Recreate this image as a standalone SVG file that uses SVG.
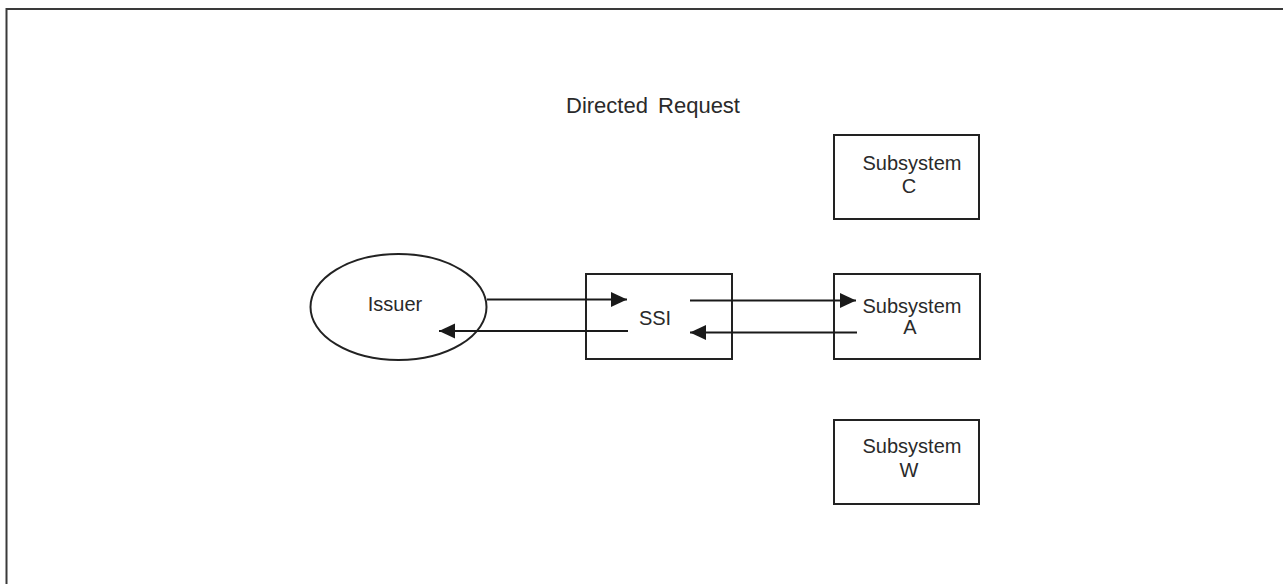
<svg xmlns="http://www.w3.org/2000/svg" width="1283" height="584" viewBox="0 0 1283 584">
  <style>
    .frame { fill: none; stroke: #3a3a3a; stroke-width: 2; }
    .node { fill: #ffffff; stroke: #222222; stroke-width: 2; }
    .label { font-family: "Liberation Sans", Arial, sans-serif; font-size: 20px; fill: #2a2a2a; text-anchor: middle; }
    .title { font-family: "Liberation Sans", Arial, sans-serif; font-size: 22px; fill: #2a2a2a; word-spacing: 4px; }
    .edge { fill: none; stroke: #1a1a1a; stroke-width: 2; marker-end: url(#arrow); }
  </style>
  <defs>
    <marker id="arrow" markerUnits="userSpaceOnUse" markerWidth="17" markerHeight="16" refX="16" refY="8" orient="auto">
      <path d="M0,0.5 L16,8 L0,15.5 Z" fill="#1a1a1a"/>
    </marker>
  </defs>

  <rect width="1283" height="584" fill="#ffffff"/>

  <!-- open frame: top and left edges only -->
  <path class="frame" d="M6.5,584 L6.5,9 L1283,9"/>

  <text class="title" x="566" y="113">Directed Request</text>

  <g id="issuer">
    <ellipse class="node" cx="398.5" cy="307" rx="88" ry="53"/>
    <text class="label" x="395" y="311">Issuer</text>
  </g>

  <g id="ssi">
    <rect class="node" x="586" y="274" width="146" height="85"/>
    <text class="label" x="655" y="325">SSI</text>
  </g>

  <g id="subsystem-c">
    <rect class="node" x="834" y="135" width="145" height="84"/>
    <text class="label" x="912" y="170">Subsystem</text>
    <text class="label" x="909" y="193">C</text>
  </g>

  <g id="subsystem-a">
    <rect class="node" x="834" y="274" width="146" height="85"/>
    <text class="label" x="912" y="313">Subsystem</text>
    <text class="label" x="910" y="334">A</text>
  </g>

  <g id="subsystem-w">
    <rect class="node" x="834" y="420" width="145" height="84"/>
    <text class="label" x="912" y="453">Subsystem</text>
    <text class="label" x="909" y="477">W</text>
  </g>

  <g id="connectors">
    <line class="edge" x1="487" y1="299.5" x2="627" y2="299.5"/>
    <line class="edge" x1="628" y1="331" x2="439" y2="331"/>
    <line class="edge" x1="690" y1="300.5" x2="856" y2="300.5"/>
    <line class="edge" x1="857" y1="332.5" x2="690" y2="332.5"/>
  </g>
</svg>
